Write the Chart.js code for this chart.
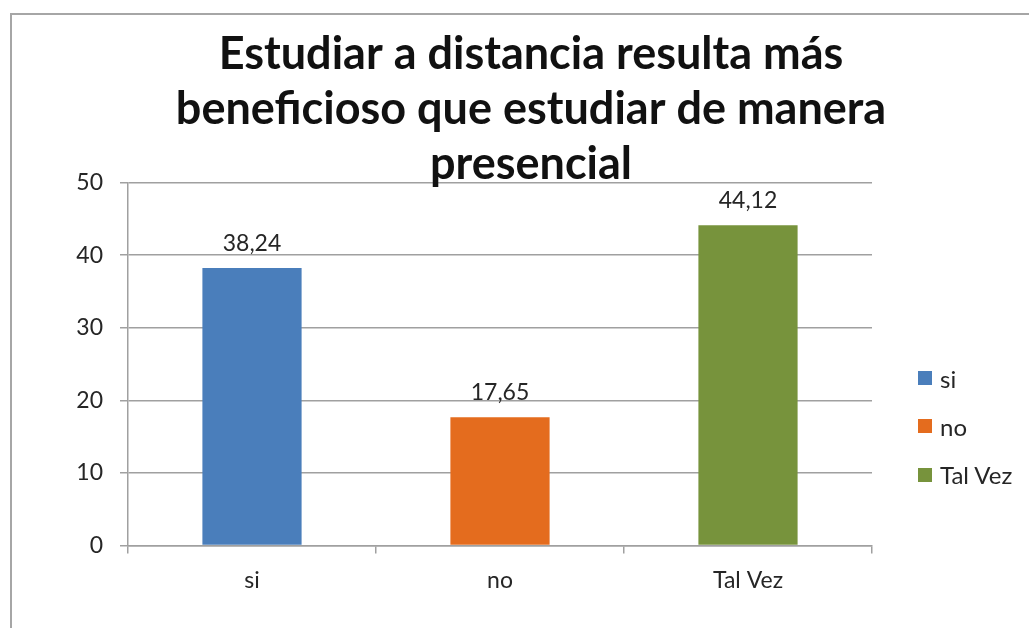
<!DOCTYPE html>
<html lang="es">
<head>
  <meta charset="UTF-8">
  <title>Estudiar a distancia</title>
  <script src="https://cdn.jsdelivr.net/npm/chart.js"></script>
  <style>
    body { margin: 0; background: #fff; font-family: Lato, sans-serif; }
    #marco {
      position: absolute; left: 10px; top: 13px;
      width: 1040px; height: 640px;
      border: 2px solid #a6a6a6;
    }
    #grafico { position: absolute; left: 0; top: 0; }
    #leyenda {
      position: absolute; left: 918px; top: 354px;
      margin: 0; padding: 0; list-style: none;
    }
    #leyenda li {
      display: flex; align-items: center;
      height: 48.3px; font-size: 24px; color: #262626;
    }
    #leyenda span.caja { width: 14px; height: 14px; margin-right: 8px; }
  </style>
</head>
<body>
  <div id="marco"></div>
  <canvas id="grafico" width="1029" height="628"></canvas>
  <ul id="leyenda"></ul>
<script>
  // datos del grafico
  const categorias = ['si', 'no', 'Tal Vez'];
  const valores = [38.24, 17.65, 44.12];
  const colores = ['#4a7ebb', '#e46c1e', '#77933c'];
  const ticksY = [0, 10, 20, 30, 40, 50];
  const titulo = ['Estudiar a distancia resulta más', 'beneficioso que estudiar de manera', 'presencial'];

  Chart.defaults.font.family = 'Lato';

  // etiquetas con el valor encima de cada barra
  const etiquetasValor = {
    id: 'etiquetasValor',
    afterDatasetsDraw(chart) {
      const ctx = chart.ctx;
      const meta = chart.getDatasetMeta(0);
      ctx.save();
      ctx.font = '23px Lato';
      ctx.fillStyle = '#262626';
      ctx.textAlign = 'center';
      ctx.textBaseline = 'alphabetic';
      meta.data.forEach((barra, i) => {
        ctx.fillText(valores[i].toFixed(2).replace('.', ','), barra.x, barra.y - 17);
      });
      ctx.restore();
    }
  };

  const ctx = document.getElementById('grafico').getContext('2d');
  const chart = new Chart(ctx, {
    type: 'bar',
    data: {
      labels: categorias,
      datasets: [{
        data: valores,
        backgroundColor: colores,
        barPercentage: 0.4,
        categoryPercentage: 1
      }]
    },
    options: {
      responsive: false,
      animation: false,
      layout: { padding: { top: 10, left: 33, right: 0, bottom: 21 } },
      plugins: {
        legend: { display: false },
        tooltip: { enabled: false },
        title: {
          display: true,
          text: titulo,
          color: '#111',
          font: { size: 45, weight: 'bold', lineHeight: 1.22 },
          padding: { top: 17, bottom: -9 }
        }
      },
      scales: {
        x: {
          grid: { drawOnChartArea: false, drawTicks: true, tickLength: 8, color: '#a0a0a0', lineWidth: 1.5 },
          border: { color: '#a0a0a0', width: 1.5 },
          ticks: { color: '#262626', font: { size: 23 }, padding: 13 }
        },
        y: {
          min: 0,
          max: 50,
          afterBuildTicks: (eje) => { eje.ticks = ticksY.map(v => ({ value: v })); },
          afterFit: (eje) => { eje.width = 95; },
          grid: { color: '#a0a0a0', lineWidth: 1.5, tickLength: 8 },
          border: { color: '#a0a0a0', width: 1.5 },
          ticks: { color: '#262626', font: { size: 23 }, padding: 17 }
        },
        // eje vacio para dejar sitio a la leyenda
        derecha: {
          type: 'linear',
          position: 'right',
          grid: { display: false },
          border: { display: false },
          ticks: { display: false },
          afterFit: (eje) => { eje.width = 157; }
        }
      }
    },
    plugins: [etiquetasValor]
  });

  // leyenda en html
  const leyenda = document.getElementById('leyenda');
  categorias.forEach((cat, i) => {
    const li = document.createElement('li');
    li.innerHTML = `<span class="caja" style="background:${colores[i]}"></span>${cat}`;
    leyenda.appendChild(li);
  });
</script>
</body>
</html>
